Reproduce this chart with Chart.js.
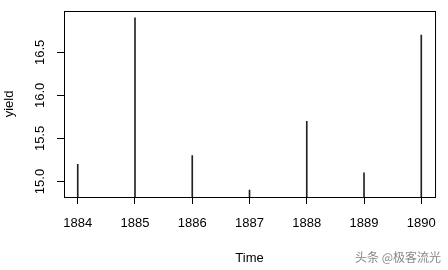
<!DOCTYPE html>
<html lang="en">

<head>
    <meta charset="UTF-8">
    <title>yield</title>
    <script src="https://cdn.jsdelivr.net/npm/chart.js@4.4.1/dist/chart.umd.min.js"></script>
    <style>
        body { margin: 0; background: #fff; }
        canvas { display: block; }
    </style>
</head>

<body>
    <canvas id="chart" width="448" height="270"></canvas>
    <script>
        // values
        const years = [1884, 1885, 1886, 1887, 1888, 1889, 1890]
        const yieldVals = [15.2, 16.9, 15.3, 14.9, 15.7, 15.1, 16.7]
        const xTicks = [1884, 1885, 1886, 1887, 1888, 1889, 1890]
        const yTicks = [15.0, 15.5, 16.0, 16.5]
        const watermark = '头条 @极客流光'

        const font = "'Liberation Sans', Arial, sans-serif"

        // R style box, rotated y tick labels and the watermark
        const rStuff = {
            id: 'rStuff',
            afterDraw(chart) {
                const ctx = chart.ctx
                const a = chart.chartArea
                ctx.save()
                ctx.strokeStyle = '#000'
                ctx.lineWidth = 1
                ctx.strokeRect(a.left + 0.5, a.top + 0.5, a.right - a.left, a.bottom - a.top)

                const y = chart.scales.y
                ctx.fillStyle = '#000'
                ctx.font = '13px ' + font
                ctx.textAlign = 'center'
                ctx.textBaseline = 'middle'
                yTicks.forEach(v => {
                    ctx.save()
                    ctx.translate(40, y.getPixelForValue(v))
                    ctx.rotate(-Math.PI / 2)
                    ctx.fillText(v.toFixed(1), 0, 0)
                    ctx.restore()
                })

                ctx.font = "12px 'Noto Sans CJK SC', sans-serif"
                ctx.fillStyle = '#888'
                ctx.textAlign = 'right'
                ctx.fillText(watermark, 441, 257)
                ctx.restore()
            }
        }

        new Chart(document.getElementById('chart'), {
            type: 'bar',
            data: {
                datasets: [{
                    data: years.map((x, i) => ({ x: x, y: yieldVals[i] })),
                    backgroundColor: '#222',
                    borderWidth: 0,
                    barThickness: 1,
                }]
            },
            options: {
                responsive: false,
                devicePixelRatio: 1,
                animation: false,
                layout: { padding: { top: 11, right: 7, left: 0, bottom: 0 } },
                plugins: { legend: { display: false }, tooltip: { enabled: false } },
                scales: {
                    x: {
                        type: 'linear',
                        min: 1883.76,
                        max: 1890.24,
                        offset: false,
                        afterBuildTicks: s => { s.ticks = xTicks.map(v => ({ value: v })) },
                        afterFit: s => { s.height = 73 },
                        border: { display: false },
                        grid: { offset: false, drawOnChartArea: false, color: '#000', tickLength: 7, tickColor: '#000' },
                        ticks: {
                            color: '#000',
                            padding: 12,
                            maxRotation: 0,
                            autoSkip: false,
                            font: { family: font, size: 13 },
                            callback: v => String(v),
                        },
                        title: {
                            display: true,
                            text: 'Time',
                            color: '#000',
                            font: { family: font, size: 13 },
                            padding: { top: 0, bottom: 4 },
                        },
                    },
                    y: {
                        min: 14.82,
                        max: 16.98,
                        afterBuildTicks: s => { s.ticks = yTicks.map(v => ({ value: v })) },
                        afterFit: s => { s.width = 64 },
                        border: { display: false },
                        grid: { drawOnChartArea: false, color: '#000', tickLength: 7, tickColor: '#000' },
                        ticks: { display: false },
                        title: {
                            display: true,
                            text: 'yield',
                            color: '#000',
                            font: { family: font, size: 13 },
                            padding: { top: 2, bottom: 0 },
                        },
                    },
                },
            },
            plugins: [rStuff],
        })
    </script>
</body>

</html>
